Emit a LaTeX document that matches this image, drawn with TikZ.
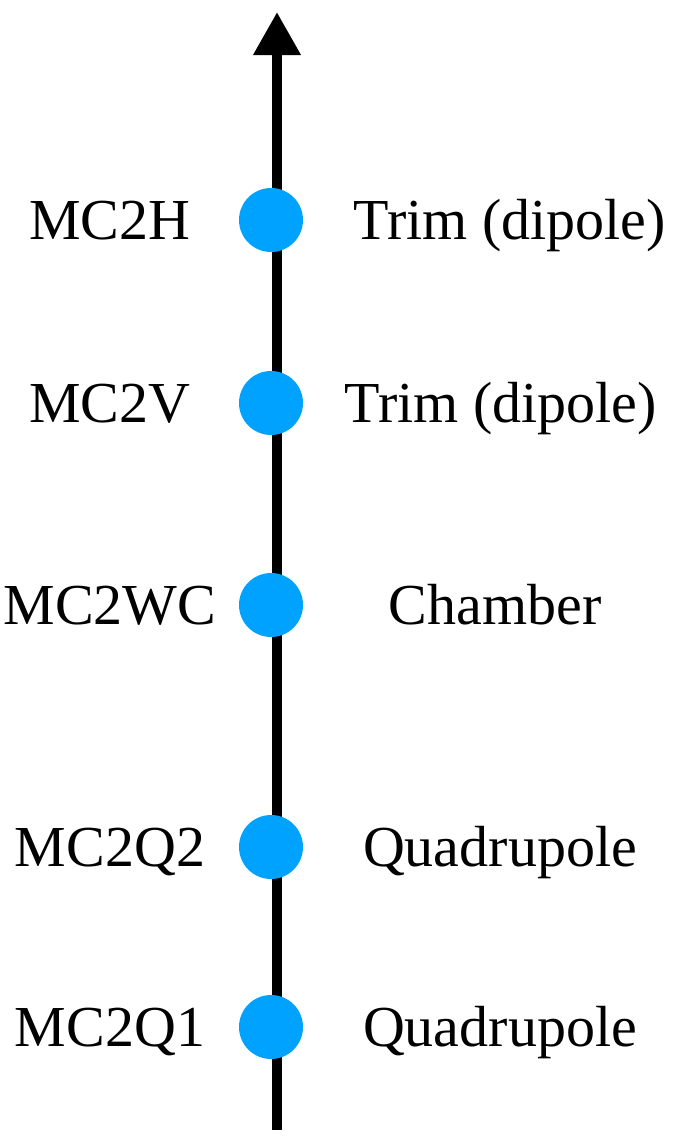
\documentclass[tikz,border=0pt]{standalone}
\usepackage{fontspec}
\setmainfont{Liberation Serif}
\usetikzlibrary{arrows.meta}
\definecolor{dotblue}{RGB}{0,162,255}
\begin{document}
\begin{tikzpicture}[x=1pt,y=-1pt,
  dot/.style={circle,fill=dotblue,inner sep=0pt,minimum size=64pt},
  lbl/.style={anchor=base,inner sep=0pt,font=\fontsize{58}{60}\selectfont}]
\useasboundingbox (0,0) rectangle (684,1138);
\coordinate (bot) at (277,1130);
\coordinate (top) at (277,12);
\draw[line width=10pt,-{Triangle[width=45pt,length=43pt]}] (bot) -- (top);
\foreach \y/\l/\r/\rx [count=\i] in {220/MC2H/Trim (dipole)/510, 403/MC2V/Trim (dipole)/501, 605/MC2WC/Chamber/495, 847/MC2Q2/Quadrupole/500, 1027/MC2Q1/Quadrupole/500}{
  \node[dot] (d\i) at (271,\y) {};
  \node[lbl] (l\i) at (110,\y+19) {\l};
  \node[lbl] (r\i) at (\rx,\y+19) {\r};
}
\end{tikzpicture}
\end{document}
